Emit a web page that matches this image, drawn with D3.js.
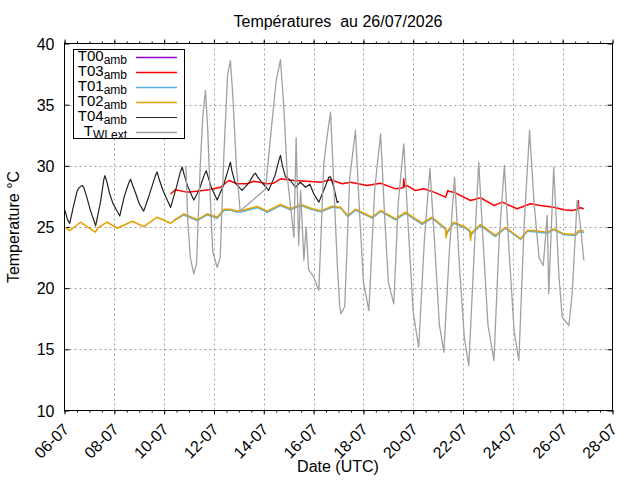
<!DOCTYPE html>
<html><head><meta charset="utf-8">
<script src="https://cdn.jsdelivr.net/npm/d3@7"></script>
<style>
html,body{margin:0;padding:0;background:#fff;}
text{font-family:"Liberation Sans",Arial,sans-serif;fill:#000;}
</style></head>
<body><svg id="c" width="640" height="480"></svg>
<script>
// ---- data (day of July 2026, decimal ; temperature °C) ----
const xTickDays = [6,8,10,12,14,16,18,20,22,24,26,28];
const yTicks = [10,15,20,25,30,35,40];
const t00 = [];
const t03 = [[10.26,27.7],[10.45,28.04],[10.9,27.85],[11.3,27.93],[11.8,28.04],[12.26,28.25],[12.6,28.8],[12.93,28.53],[13.33,28.53],[13.6,28.74],[14.14,28.53],[14.4,28.58],[14.67,28.94],[15.21,28.8],[15.74,28.74],[16.28,28.66],[16.68,28.86],[17.15,28.53],[17.48,28.66],[18.15,28.39],[18.69,28.58],[19.29,28.12],[19.60,28.2],[19.62,28.94],[19.65,28.3],[19.76,28.39],[20.09,27.98],[20.42,28.12],[20.83,27.85],[21.30,27.44],[21.39,27.98],[21.45,27.9],[21.63,27.85],[22.30,27.17],[22.70,27.39],[23.24,26.76],[23.57,27.03],[24.17,26.49],[24.71,26.9],[25.11,26.76],[25.64,26.62],[26.05,26.41],[26.38,26.35],[26.60,26.45],[26.62,27.17],[26.65,26.5],[26.72,26.57],[26.85,26.49]];
const t01 = [[10.39,25.55],[10.79,25.98],[11.33,25.52],[11.73,26.0],[12.13,25.72],[12.40,26.35],[12.66,26.38],[12.93,26.2],[13.13,26.25],[13.74,26.58],[14.14,26.2],[14.67,26.75],[15.07,26.4],[15.50,26.75],[15.95,26.4],[16.28,26.25],[16.75,26.62],[17.08,26.55],[17.37,25.85],[17.68,26.38],[18.35,25.72],[18.69,26.28],[19.29,25.58],[19.69,26.12],[20.36,25.22],[20.76,25.72],[21.30,24.8],[21.32,24.3],[21.36,24.5],[21.63,25.3],[22.10,24.9],[22.28,24.6],[22.30,24.2],[22.33,24.4],[22.70,25.12],[23.30,24.22],[23.70,24.9],[24.31,23.98],[24.58,24.65],[24.84,24.62],[25.38,24.48],[25.64,24.78],[26.05,24.36],[26.52,24.3],[26.65,24.62],[26.85,24.55]];
const t02 = [[6.00,24.95],[6.04,24.94],[6.21,24.71],[6.64,25.39],[7.24,24.58],[7.35,24.94],[7.71,25.39],[8.12,24.90],[8.72,25.47],[9.18,25.04],[9.72,25.80],[10.26,25.31],[10.79,26.07],[11.33,25.61],[11.73,26.08],[12.13,25.80],[12.40,26.45],[12.66,26.45],[12.93,26.30],[13.13,26.35],[13.74,26.68],[14.14,26.30],[14.67,26.84],[15.07,26.49],[15.50,26.84],[15.95,26.49],[16.28,26.32],[16.75,26.70],[17.08,26.62],[17.37,25.94],[17.68,26.45],[18.35,25.80],[18.69,26.35],[19.29,25.67],[19.69,26.21],[20.36,25.31],[20.76,25.80],[21.30,24.90],[21.32,24.11],[21.36,24.60],[21.63,25.39],[22.10,24.98],[22.28,24.70],[22.30,23.90],[22.33,24.50],[22.70,25.20],[23.30,24.31],[23.70,24.98],[24.31,24.04],[24.58,24.71],[24.84,24.71],[25.38,24.57],[25.64,24.85],[26.05,24.44],[26.52,24.39],[26.65,24.71],[26.85,24.68]];
const t04 = [[6.00,26.4],[6.04,26.2],[6.12,25.6],[6.21,25.3],[6.35,26.6],[6.50,27.9],[6.58,28.2],[6.64,28.3],[6.71,28.4],[6.78,28.2],[6.90,27.4],[7.05,26.3],[7.25,25.1],[7.45,27.1],[7.58,28.9],[7.62,29.2],[7.70,28.7],[7.80,27.8],[7.95,26.9],[8.22,25.9],[8.40,27.5],[8.58,28.6],[8.65,28.9],[8.72,28.5],[8.85,27.8],[9.00,26.9],[9.18,26.3],[9.40,27.6],[9.65,29.2],[9.72,29.5],[9.80,28.9],[9.95,28.0],[10.26,26.6],[10.50,28.3],[10.65,29.5],[10.73,29.9],[10.80,29.3],[10.95,28.3],[11.19,27.2],[11.40,28.0],[11.62,29.3],[11.69,29.6],[11.78,29.0],[11.90,28.2],[12.13,27.2],[12.40,28.5],[12.60,29.9],[12.66,30.3],[12.72,29.6],[12.85,28.6],[13.13,28.0],[13.40,28.6],[13.60,29.3],[13.67,29.4],[13.75,29.1],[13.90,28.7],[14.20,28.0],[14.45,29.2],[14.60,30.4],[14.67,30.85],[14.75,30.0],[14.87,29.1],[15.07,28.8],[15.27,28.25],[15.47,28.66],[15.68,28.25],[15.85,28.5],[16.01,27.7],[16.21,27.03],[16.45,28.2],[16.61,29.07],[16.68,29.1],[16.81,28.25],[16.95,27.0],[17.01,27.1]];
const twiExt = [[10.87,30.0],[10.95,25.5],[11.05,22.5],[11.19,21.17],[11.30,22.0],[11.45,30.0],[11.55,34.0],[11.66,36.16],[11.75,33.0],[11.85,27.5],[11.95,23.0],[12.13,21.7],[12.25,22.5],[12.40,31.0],[12.55,37.5],[12.66,38.6],[12.75,36.0],[12.90,30.0],[13.05,26.3],[14.07,28.1],[14.3,33.0],[14.5,37.0],[14.67,38.67],[14.80,35.0],[14.95,29.0],[15.21,24.17],[15.30,32.3],[15.40,23.5],[15.48,28.0],[15.61,22.26],[15.70,25.0],[15.80,21.5],[16.01,20.9],[16.21,19.81],[16.41,30.16],[16.55,32.5],[16.68,34.39],[16.80,29.0],[16.95,22.0],[17.05,18.5],[17.10,17.9],[17.25,18.5],[17.45,29.0],[17.68,32.89],[17.85,26.0],[18.0,20.5],[18.22,18.17],[18.45,28.0],[18.69,32.62],[18.85,26.0],[19.0,20.5],[19.22,18.72],[19.40,27.0],[19.62,31.8],[19.80,25.0],[20.0,18.0],[20.22,15.17],[20.45,24.0],[20.67,29.76],[20.85,24.0],[21.05,17.0],[21.23,14.77],[21.45,23.0],[21.66,29.07],[21.85,22.0],[22.05,16.0],[22.23,13.68],[22.45,23.0],[22.63,30.3],[22.80,24.0],[23.0,17.0],[23.24,14.09],[23.45,24.0],[23.66,30.03],[23.85,23.0],[24.05,16.5],[24.24,14.09],[24.45,25.0],[24.67,32.89],[24.85,27.0],[25.05,22.5],[25.22,21.85],[25.38,25.94],[25.44,19.54],[25.64,29.89],[25.85,21.0],[25.98,17.63],[26.25,16.95],[26.38,19.54],[26.58,27.17],[26.72,25.0],[26.85,22.26]];

const seriesNames = ["T00","T03","T01","T02","T04","T"];
const seriesSubs = ["amb","amb","amb","amb","amb","WI ext"];
const seriesData = [t00,t03,t01,t02,t04,twiExt];
const seriesColors = ["#9400d3","#ff0000","#56b4e9","#e69f00","#222222","#a0a0a0"];
const seriesWidths = [1.5,1.5,1.5,1.5,1.2,1.3];

// ---- chart ----
const toDate = d => new Date(Date.UTC(2026,6,1) + (d-1)*864e5);
const L=64.5,R=612.5,T=43.5,B=410.5;
const svg = d3.select("#c");
svg.append("rect").attr("width",640).attr("height",480).attr("fill","#fff");
const x = d3.scaleUtc().domain([toDate(6),toDate(28)]).range([L,R]);
const y = d3.scaleLinear().domain([10,40]).range([B,T]);

// grid
const g = svg.append("g").attr("stroke","#a0a0a0").attr("stroke-width",1).attr("stroke-dasharray","2,3");
xTickDays.slice(1,-1).forEach(d=>{ const px=Math.round(x(toDate(d)))+0.5;
  g.append("line").attr("x1",px).attr("x2",px).attr("y1",T).attr("y2",B);});
yTicks.slice(1,-1).forEach(v=>{ const py=Math.round(y(v))+0.5;
  g.append("line").attr("x1",L).attr("x2",R).attr("y1",py).attr("y2",py);});

// axes
const fmt = d3.utcFormat("%d-%m");
const xTickVals = xTickDays.map(toDate);
const minorVals = d3.range(6,28.01,0.5).map(toDate);
const xb = svg.append("g").attr("transform",`translate(0,${B})`)
  .call(d3.axisBottom(x).tickValues(xTickVals).tickFormat(fmt).tickSize(4).tickSizeOuter(0));
const xbm = svg.append("g").attr("transform",`translate(0,${B})`)
  .call(d3.axisBottom(x).tickValues(minorVals).tickFormat("").tickSize(2).tickSizeOuter(0));
const xt = svg.append("g").attr("transform",`translate(0,${T})`)
  .call(d3.axisTop(x).tickValues(xTickVals).tickFormat("").tickSize(4).tickSizeOuter(0));
const xtm = svg.append("g").attr("transform",`translate(0,${T})`)
  .call(d3.axisTop(x).tickValues(minorVals).tickFormat("").tickSize(2).tickSizeOuter(0));
const yl = svg.append("g").attr("transform",`translate(${L},0)`)
  .call(d3.axisLeft(y).tickValues(yTicks).tickSize(-5).tickSizeOuter(0));
const yr = svg.append("g").attr("transform",`translate(${R},0)`)
  .call(d3.axisRight(y).tickValues(yTicks).tickFormat("").tickSize(-5).tickSizeOuter(0));
[xb,xbm,xt,xtm,yl,yr].forEach(a=>{a.select(".domain").remove(); a.selectAll("line").attr("stroke","#000");});
yl.selectAll("text").attr("font-size",16).attr("x",-10).attr("dy","0.35em")
  .style("font-family","'Liberation Sans',Arial,sans-serif").attr("fill","#000");
xb.selectAll("text").attr("font-size",16).attr("text-anchor","end")
  .style("font-family","'Liberation Sans',Arial,sans-serif").attr("fill","#000")
  .attr("y",0).attr("dy",0).attr("transform","translate(5,20) rotate(-45)");

// series
const line = d3.line().x(d=>x(toDate(d[0]))).y(d=>y(d[1]));
svg.append("clipPath").attr("id","cp").append("rect").attr("x",L).attr("y",T).attr("width",R-L).attr("height",B-T);
const sg = svg.append("g").attr("clip-path","url(#cp)");
seriesData.forEach((s,i)=>{ if(!s.length) return;
  sg.append("path").datum(s).attr("d",line).attr("fill","none")
    .attr("stroke",seriesColors[i]).attr("stroke-width",seriesWidths[i]).attr("stroke-linejoin","round");});

// border
svg.append("rect").attr("x",L).attr("y",T).attr("width",R-L).attr("height",B-T)
  .attr("fill","none").attr("stroke","#000").attr("stroke-width",1);

// legend
const lg = svg.append("g");
lg.append("rect").attr("x",73.5).attr("y",49.5).attr("width",111).attr("height",89)
  .attr("fill","#fff").attr("stroke","#000").attr("stroke-width",1);
seriesNames.forEach((n,i)=>{
  const yy = 57.5 + i*15;
  const t = lg.append("text").attr("x",127).attr("y",yy+3).attr("text-anchor","end").attr("font-size",15);
  t.append("tspan").text(n);
  t.append("tspan").attr("font-size",12).attr("dy",3).text(seriesSubs[i]);
  lg.append("line").attr("x1",136).attr("x2",177).attr("y1",yy).attr("y2",yy)
    .attr("stroke",seriesColors[i]).attr("stroke-width",seriesWidths[i]);
});

// titles
svg.append("text").attr("x",338).attr("y",27).attr("text-anchor","middle").attr("font-size",16)
  .style("white-space","pre").text("Températures  au 26/07/2026");
svg.append("text").attr("x",338).attr("y",472).attr("text-anchor","middle").attr("font-size",16).text("Date (UTC)");
svg.append("text").attr("transform","translate(19,227) rotate(-90)").attr("text-anchor","middle").attr("font-size",16)
  .text("Temperature °C");
</script></body></html>
